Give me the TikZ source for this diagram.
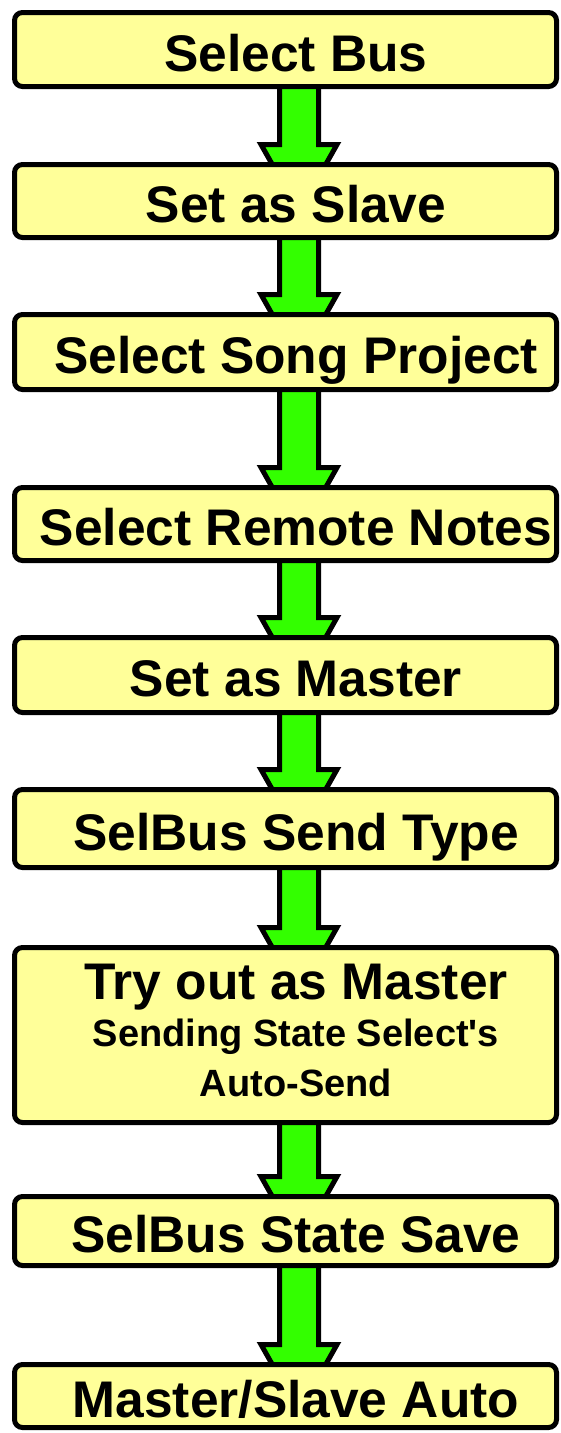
\documentclass[tikz,border=0pt]{standalone}
\usepackage{fontspec}
\setmainfont{Liberation Sans}[Ligatures=TeXOff]
\usetikzlibrary{calc,backgrounds}

\definecolor{boxfill}{RGB}{255,255,153}
\definecolor{arrowgreen}{RGB}{51,255,0}

\tikzset{
  stepbox/.style={draw=black, line width=5pt, fill=boxfill, rounded corners=8pt,
    minimum width=542pt, inner xsep=0pt, inner ysep=0pt, outer sep=0pt,
    text height=43pt, text depth=0pt,
    font=\fontsize{51.5pt}{54pt}\selectfont\bfseries},
  subtext/.style={inner sep=0pt, anchor=base,
    font=\fontsize{38pt}{40pt}\selectfont\bfseries},
  maintext/.style={inner sep=0pt, anchor=base,
    font=\fontsize{51.5pt}{54pt}\selectfont\bfseries},
  fatarrow/.style={draw=black, line width=5pt, fill=arrowgreen, line join=miter}
}

% fat green arrow from the bottom of box #1 into the top of box #2
\newcommand{\flowarrow}[2]{%
  \path[fatarrow] let \p1=(#1.south), \p2=(#2.north) in
    (279.5pt, \y1+4pt) -- (279.5pt, \y2+20pt) -- (261pt, \y2+20pt) --
    (274pt, \y2-3pt) -- (324pt, \y2-3pt) -- (337pt, \y2+20pt) --
    (318.5pt, \y2+20pt) -- (318.5pt, \y1+4pt) -- cycle;}

\begin{document}
\begin{tikzpicture}[x=1pt, y=1pt]
\useasboundingbox (0,0) rectangle (561,-1433);

% the steps
\node[stepbox, minimum height=74pt]  (s1) at (285.5,-49.5)  {\hspace{21pt}Select Bus};
\node[stepbox, minimum height=73pt]  (s2) at (285.5,-201)   {\hspace{21pt}Set as Slave};
\node[stepbox, minimum height=75pt]  (s3) at (285.5,-352)   {\hspace{21pt}Select Song Project};
\node[stepbox, minimum height=73pt]  (s4) at (285.5,-524)   {\hspace{21pt}Select Remote Notes};
\node[stepbox, minimum height=75pt]  (s5) at (285.5,-675)   {\hspace{21pt}Set as Master};
\node[stepbox, minimum height=78pt]  (s6) at (285.5,-828.5) {\hspace{21pt}SelBus Send Type};
\node[stepbox, minimum height=175pt] (s7) at (285.5,-1035)  {};
\node[stepbox, minimum height=69pt]  (s8) at (285.5,-1231)  {\hspace{21pt}SelBus State Save};
\node[stepbox, minimum height=63pt]  (s9) at (285.5,-1396)  {\hspace{21pt}Master/Slave Auto};

% three-line text of the trial step
\node[maintext] (t1) at (296,-999.5)  {Try out as Master};
\node[subtext]  (t2) at (296,-1046.5) {Sending State Select's};
\node[subtext]  (t3) at (296,-1096.5) {Auto-Send};

% connectors, behind the boxes
\begin{scope}[on background layer]
\flowarrow{s1}{s2}
\flowarrow{s2}{s3}
\flowarrow{s3}{s4}
\flowarrow{s4}{s5}
\flowarrow{s5}{s6}
\flowarrow{s6}{s7}
\flowarrow{s7}{s8}
\flowarrow{s8}{s9}
\end{scope}
\end{tikzpicture}
\end{document}
